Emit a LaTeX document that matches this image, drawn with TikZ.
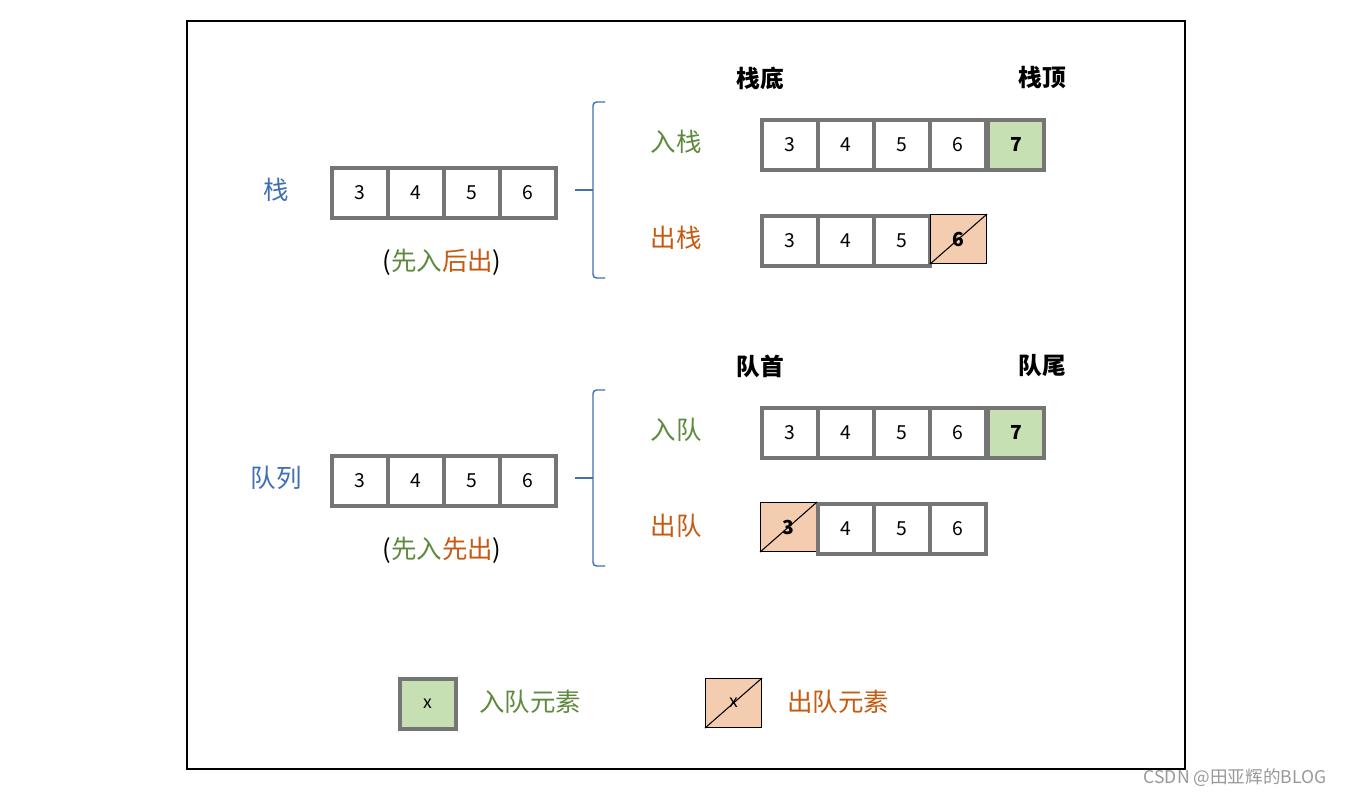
\documentclass[tikz,border=0pt]{standalone}
\usepackage{fontspec}
\setmainfont{Noto Sans CJK SC}
\definecolor{cg}{HTML}{5F8A3E}
\definecolor{co}{HTML}{C55A11}
\definecolor{cb}{HTML}{3F6FB5}
\definecolor{bd}{HTML}{757575}
\definecolor{fg}{HTML}{C6E0B4}
\definecolor{fo}{HTML}{F4CCB0}
\begin{document}
\begin{tikzpicture}[x=0.02cm,y=-0.02cm,
 cell/.style={draw=bd,line width=2.2pt,minimum width=1.12cm,minimum height=1.0cm,inner sep=0,font=\fontsize{11}{11}\selectfont,anchor=north west},
 gcell/.style={cell,fill=fg,font=\fontsize{11}{11}\selectfont\bfseries},
 ocell/.style={draw=black,line width=0.6pt,fill=fo,minimum width=1.12cm,minimum height=0.98cm,inner sep=0,font=\fontsize{11}{11}\selectfont\bfseries,anchor=north west},
 lab/.style={font=\fontsize{14.5}{14.5}\selectfont},
 hd/.style={font=\fontsize{13.5}{13.5}\selectfont\bfseries},
 br/.style={draw=cb,line width=0.8pt,rounded corners=2pt}]
\useasboundingbox (0,0) rectangle (1348,798);
\fill[white] (0,0) rectangle (1348,798);
\draw[line width=1.2pt] (187,21) rectangle (1185,769);
% stack
\node[lab,text=cb] (s) at (276,190) {栈};
\foreach \v/\x in {3/330,4/386,5/442,6/498} \node[cell] (s\v) at (\x,166) {\v};
\node[lab] (sn) at (442,262) {(\textcolor{cg}{先入}\textcolor{co}{后出})};
\draw[br] (605,102) -- (593,102) -- (593,278) -- (605,278);
\draw[br] (575,190) -- (593,190);
\node[hd] (sd) at (760,78) {栈底};
\node[hd] (st) at (1042,78) {栈顶};
\node[lab,text=cg] (ru) at (676,142) {入栈};
\foreach \v/\x in {3/760,4/816,5/872,6/928} \node[cell] (a\v) at (\x,118) {\v};
\node[gcell] (a7) at (986,118) {7};
\node[lab,text=co] (ch) at (676,238) {出栈};
\foreach \v/\x in {3/760,4/816,5/872} \node[cell] (c\v) at (\x,214) {\v};
\node[ocell] (c6) at (930,214) {6};
\draw[line width=0.6pt] (c6.south west) -- (c6.north east);
% queue
\node[lab,text=cb] (q) at (276,478) {队列};
\foreach \v/\x in {3/330,4/386,5/442,6/498} \node[cell] (q\v) at (\x,454) {\v};
\node[lab] (qn) at (442,550) {(\textcolor{cg}{先入}\textcolor{co}{先出})};
\draw[br] (605,390) -- (593,390) -- (593,566) -- (605,566);
\draw[br] (575,478) -- (593,478);
\node[hd] (qd) at (760,366) {队首};
\node[hd] (qt) at (1042,366) {队尾};
\node[lab,text=cg] (ri) at (676,430) {入队};
\foreach \v/\x in {3/760,4/816,5/872,6/928} \node[cell] (d\v) at (\x,406) {\v};
\node[gcell] (d7) at (986,406) {7};
\node[lab,text=co] (co) at (676,526) {出队};
\node[ocell] (e3) at (760,502) {3};
\foreach \v/\x in {4/816,5/872,6/928} \node[cell] (e\v) at (\x,502) {\v};
\draw[line width=0.6pt] (e3.south west) -- (e3.north east);
% legend
\node[gcell,font=\fontsize{10}{10}\selectfont] (lg) at (398,677) {x};
\node[lab,text=cg] (lgt) at (530,702) {入队元素};
\node[ocell,font=\fontsize{10}{10}\selectfont] (lo) at (705,678) {x};
\draw[line width=0.6pt] (lo.south west) -- (lo.north east);
\node[lab,text=co] (lot) at (838,702) {出队元素};
\node[text=gray!80,font=\fontsize{10}{10}\selectfont] (wm) at (1235,778) {CSDN @田亚辉的BLOG};
\end{tikzpicture}
\end{document}
